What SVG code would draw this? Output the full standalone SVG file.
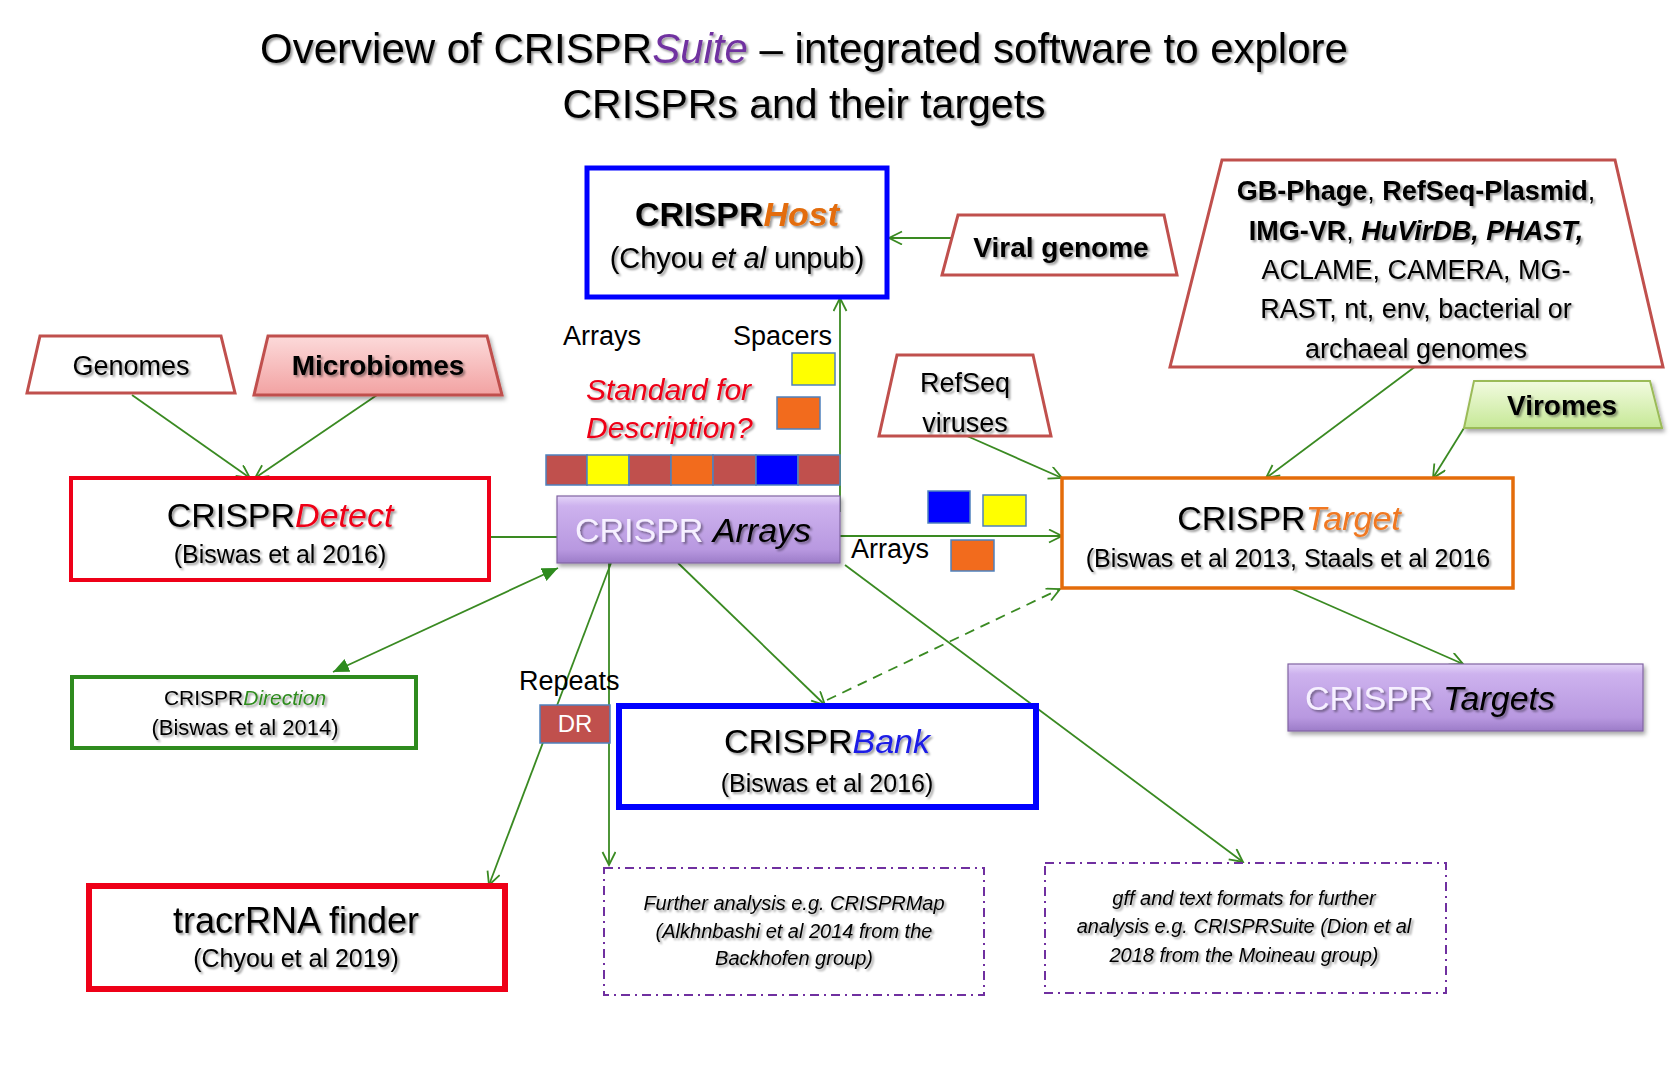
<svg xmlns="http://www.w3.org/2000/svg" width="1676" height="1086" viewBox="0 0 1676 1086">
<style>
text{font-family:"Liberation Sans",Arial,sans-serif;fill:#000}
.sh{filter:url(#tsh)}
.trap{fill:#fff;stroke:#C0504D;stroke-width:3}
.conn{stroke:#3A8A22;stroke-width:1.8;fill:none}
.dd{fill:#fff;stroke:#7030A0;stroke-width:2;stroke-dasharray:9 5 2 5}
.lbl{font-size:27px}
.sq{stroke:#4F81BD;stroke-width:1.5}
.it{font-style:italic}
.b{font-weight:bold}
</style>
<defs>
<filter id="tsh" x="-10%" y="-30%" width="120%" height="160%">
<feDropShadow dx="2" dy="2" stdDeviation="1.3" flood-color="#000" flood-opacity="0.4"/>
</filter>
<filter id="bsh" x="-10%" y="-20%" width="120%" height="150%">
<feDropShadow dx="2" dy="3" stdDeviation="2" flood-color="#000" flood-opacity="0.35"/>
</filter>
<linearGradient id="purp" x1="0" y1="0" x2="0" y2="1">
<stop offset="0" stop-color="#E4D4F8"/>
<stop offset="0.15" stop-color="#CDB2EE"/>
<stop offset="0.8" stop-color="#B898E0"/>
<stop offset="1" stop-color="#9C7CC8"/>
</linearGradient>
<linearGradient id="pink" x1="0" y1="0" x2="0" y2="1">
<stop offset="0" stop-color="#FCDADA"/>
<stop offset="1" stop-color="#F2A2A2"/>
</linearGradient>
<linearGradient id="green" x1="0" y1="0" x2="0" y2="1">
<stop offset="0" stop-color="#F2FBE0"/>
<stop offset="1" stop-color="#C6E896"/>
</linearGradient>
<marker id="open" markerUnits="userSpaceOnUse" markerWidth="20" markerHeight="20" refX="14" refY="7" orient="auto">
<path d="M1,0.5 L14,7 L1,13.5" fill="none" stroke="#3A8A22" stroke-width="1.8"/>
</marker>
<marker id="fill" markerUnits="userSpaceOnUse" markerWidth="20" markerHeight="20" refX="16" refY="7" orient="auto-start-reverse">
<path d="M0,0 L16,7 L0,14 Z" fill="#2E8B1E"/>
</marker>
</defs>
<rect width="1676" height="1086" fill="#fff"/>

<g id="title" class="sh">
<text x="804" y="63" text-anchor="middle" font-size="42">Overview of CRISPR<tspan class="it" fill="#7030A0">Suite</tspan> – integrated software to explore</text>
<text x="804" y="118" text-anchor="middle" font-size="41">CRISPRs and their targets</text>
</g>

<g id="connectors">
<line class="conn" x1="132" y1="395" x2="250" y2="478" marker-end="url(#open)"/>
<line class="conn" x1="377" y1="395" x2="255" y2="478" marker-end="url(#open)"/>
<line class="conn" x1="951" y1="238" x2="889" y2="238" marker-end="url(#open)"/>
<line class="conn" x1="489" y1="537" x2="557" y2="537"/>
<line class="conn" x1="840" y1="512" x2="840" y2="298" marker-end="url(#open)"/>
<line class="conn" x1="840" y1="536" x2="1062" y2="536" marker-end="url(#open)"/>
<line class="conn" x1="967" y1="436" x2="1062" y2="478" marker-end="url(#open)"/>
<line class="conn" x1="1416" y1="366" x2="1266" y2="478" marker-end="url(#open)"/>
<line class="conn" x1="1464" y1="428" x2="1433" y2="478" marker-end="url(#open)"/>
<line class="conn" x1="1290" y1="588" x2="1463" y2="664" marker-end="url(#open)"/>
<line class="conn" x1="333" y1="672" x2="558" y2="568" stroke="#2E8B1E" stroke-width="2.2" marker-start="url(#fill)" marker-end="url(#fill)"/>
<line class="conn" x1="611" y1="563" x2="489" y2="885" marker-end="url(#open)"/>
<line class="conn" x1="609" y1="563" x2="609" y2="865" marker-end="url(#open)"/>
<line class="conn" x1="678" y1="563" x2="825" y2="705" marker-end="url(#open)"/>
<line class="conn" x1="827" y1="700" x2="1060" y2="589" stroke-dasharray="10 7" stroke-width="2.2" marker-end="url(#open)"/>
<line class="conn" x1="845" y1="565" x2="1243" y2="862" marker-end="url(#open)"/>
</g>

<g id="genomes">
<polygon class="trap" points="40,336 221,336 235,393 27,393"/>
<text class="lbl sh" x="131" y="375" text-anchor="middle">Genomes</text>
</g>

<g id="microbiomes">
<polygon points="268,336 487,336 502,395 254,395" fill="url(#pink)" stroke="#C0504D" stroke-width="3" filter="url(#bsh)"/>
<text class="sh b" x="378" y="375" text-anchor="middle" font-size="28">Microbiomes</text>
</g>

<g id="crisprhost">
<rect x="587" y="168" width="300" height="129" fill="#fff" stroke="#0000FF" stroke-width="5"/>
<text class="sh b" x="737" y="226" text-anchor="middle" font-size="34">CRISPR<tspan class="it" fill="#E36C09">Host</tspan></text>
<text class="sh" x="737" y="268" text-anchor="middle" font-size="29">(Chyou <tspan class="it">et al</tspan> unpub)</text>
</g>

<g id="viral-genome">
<polygon class="trap" points="958,215 1164,215 1177,275 942,275"/>
<text class="sh b" x="1061" y="257" text-anchor="middle" font-size="28">Viral genome</text>
</g>

<g id="databases">
<polygon class="trap" points="1222,160 1615,160 1663,367 1170,367"/>
<g class="sh" font-size="27" text-anchor="middle">
<text x="1416" y="200"><tspan class="b">GB-Phage</tspan>, <tspan class="b">RefSeq-Plasmid</tspan>,</text>
<text x="1416" y="240"><tspan class="b">IMG-VR</tspan>, <tspan class="b it">HuVirDB, PHAST,</tspan></text>
<text x="1416" y="279">ACLAME, CAMERA, MG-</text>
<text x="1416" y="318">RAST, nt, env, bacterial or</text>
<text x="1416" y="358">archaeal genomes</text>
</g>
</g>

<g id="refseq-viruses">
<polygon class="trap" points="897,355 1033,355 1051,436 879,436"/>
<text class="lbl sh" x="965" y="392" text-anchor="middle">RefSeq</text>
<text class="lbl sh" x="965" y="432" text-anchor="middle">viruses</text>
</g>

<g id="viromes">
<polygon points="1474,381 1650,381 1662,428 1464,428" fill="url(#green)" stroke="#9BBB59" stroke-width="2" filter="url(#bsh)"/>
<text class="sh b" x="1562" y="415" text-anchor="middle" font-size="28">Viromes</text>
</g>

<g id="crisprdetect">
<rect x="71" y="478" width="418" height="102" fill="#fff" stroke="#EE0018" stroke-width="4"/>
<text class="sh" x="280" y="527" text-anchor="middle" font-size="34">CRISPR<tspan class="it" fill="#EE0018">Detect</tspan></text>
<text class="sh" x="280" y="563" text-anchor="middle" font-size="25">(Biswas et al 2016)</text>
</g>

<g id="array-labels">
<text class="lbl" x="563" y="345">Arrays</text>
<text class="lbl" x="733" y="345">Spacers</text>
<text class="sh it" x="586" y="400" font-size="30" style="fill:#EE0018">Standard for</text>
<text class="sh it" x="586" y="438" font-size="30" style="fill:#EE0018">Description?</text>
<rect class="sq" x="792" y="353" width="43" height="32" fill="#FFFF00"/>
<rect class="sq" x="777" y="397" width="43" height="32" fill="#F26B1D"/>
</g>

<g id="array-strip">
<rect class="sq" x="546" y="455" width="41" height="30" fill="#C0504D"/>
<rect class="sq" x="587" y="455" width="42" height="30" fill="#FFFF00"/>
<rect class="sq" x="629" y="455" width="42" height="30" fill="#C0504D"/>
<rect class="sq" x="671" y="455" width="42" height="30" fill="#F26B1D"/>
<rect class="sq" x="713" y="455" width="43" height="30" fill="#C0504D"/>
<rect class="sq" x="756" y="455" width="42" height="30" fill="#0000FF"/>
<rect class="sq" x="798" y="455" width="42" height="30" fill="#C0504D"/>
</g>

<g id="crispr-arrays">
<rect x="557" y="496" width="283" height="67" fill="url(#purp)" stroke="#8064A2" stroke-width="1.2" filter="url(#bsh)"/>
<text class="sh" x="693" y="542" text-anchor="middle" font-size="34"><tspan style="fill:#F6F0FF">CRISPR</tspan> <tspan class="it">Arrays</tspan></text>
</g>

<g id="target-array-squares">
<text class="lbl" x="851" y="558">Arrays</text>
<rect class="sq" x="928" y="491" width="42" height="32" fill="#0000FF"/>
<rect class="sq" x="983" y="495" width="43" height="31" fill="#FFFF00"/>
<rect class="sq" x="951" y="540" width="43" height="31" fill="#F26B1D"/>
</g>

<g id="crisprtarget">
<rect x="1062" y="478" width="451" height="110" fill="#fff" stroke="#E46C0A" stroke-width="3.5"/>
<text class="sh" x="1289" y="530" text-anchor="middle" font-size="34">CRISPR<tspan class="it" fill="#F07820">Target</tspan></text>
<text class="sh" x="1288" y="567" text-anchor="middle" font-size="25">(Biswas et al 2013, Staals et al 2016</text>
</g>

<g id="crispr-targets">
<rect x="1288" y="664" width="355" height="67" fill="url(#purp)" stroke="#8064A2" stroke-width="1.2" filter="url(#bsh)"/>
<text class="sh" x="1430" y="710" text-anchor="middle" font-size="34"><tspan style="fill:#F6F0FF">CRISPR</tspan> <tspan class="it">Targets</tspan></text>
</g>

<g id="crisprdirection">
<rect x="72" y="677" width="344" height="71" fill="#fff" stroke="#2E8B1E" stroke-width="4"/>
<text class="sh" x="245" y="705" text-anchor="middle" font-size="21">CRISPR<tspan class="it" fill="#2E8B1E">Direction</tspan></text>
<text class="sh" x="245" y="735" text-anchor="middle" font-size="22">(Biswas et al 2014)</text>
</g>

<g id="repeats">
<text class="lbl" x="519" y="690">Repeats</text>
<rect x="540" y="705" width="70" height="38" fill="#C0504D" stroke="#4F81BD" stroke-width="1.5"/>
<text x="575" y="732" text-anchor="middle" font-size="24" style="fill:#fff">DR</text>
</g>

<g id="crisprbank">
<rect x="619" y="706" width="417" height="101" fill="#fff" stroke="#0000FF" stroke-width="6"/>
<text class="sh" x="827" y="753" text-anchor="middle" font-size="34">CRISPR<tspan class="it" fill="#1A1AE6">Bank</tspan></text>
<text class="sh" x="827" y="792" text-anchor="middle" font-size="25">(Biswas et al 2016)</text>
</g>

<g id="tracrrna-finder">
<rect x="89" y="886" width="416" height="103" fill="#fff" stroke="#EE0018" stroke-width="6"/>
<text class="sh" x="296" y="933" text-anchor="middle" font-size="36">tracrRNA finder</text>
<text class="sh" x="296" y="967" text-anchor="middle" font-size="25">(Chyou et al 2019)</text>
</g>

<g id="further-analysis">
<rect class="dd" x="604" y="868" width="380" height="127"/>
<g class="sh it" font-size="20" text-anchor="middle">
<text x="794" y="910">Further analysis e.g. CRISPRMap</text>
<text x="794" y="938">(Alkhnbashi et al 2014 from the</text>
<text x="794" y="965">Backhofen group)</text>
</g>
</g>

<g id="gff-formats">
<rect class="dd" x="1045" y="863" width="401" height="130"/>
<g class="sh it" font-size="20" text-anchor="middle">
<text x="1244" y="905">gff and text formats for further</text>
<text x="1244" y="933">analysis e.g. CRISPRSuite (Dion et al</text>
<text x="1244" y="962">2018 from the Moineau group)</text>
</g>
</g>
</svg>
